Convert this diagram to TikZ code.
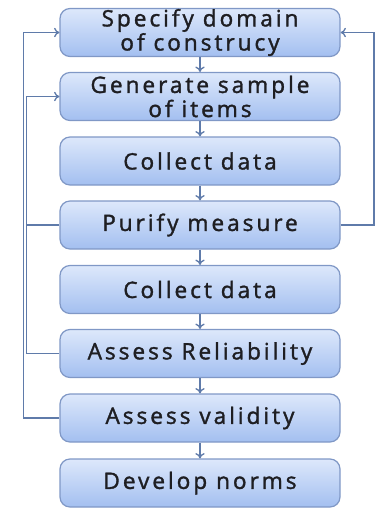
\documentclass[tikz,border=0pt]{standalone}
\usepackage{fontspec}
\newfontfamily\boxfont{Open Sans}[FakeBold=1.5, LetterSpace=13]
\usetikzlibrary{arrows.meta,calc}
\definecolor{boxtop}{HTML}{DDE8FB}
\definecolor{boxbot}{HTML}{A3BFF0}
\definecolor{boxedge}{HTML}{8098C6}
\definecolor{linec}{HTML}{5F7BAA}
\definecolor{txt}{HTML}{1E1E22}
\tikzset{
  stepbox/.style={draw=boxedge, line width=0.9pt, rounded corners=7.5pt,
    top color=boxtop, bottom color=boxbot,
    minimum width=210pt, minimum height=36pt, align=center,
    text=txt, font=\boxfont\fontsize{17}{15}\selectfont, inner sep=0pt},
  flow/.style={draw=linec, line width=1pt, -{To[length=4pt,width=7pt]}},
  fb/.style={draw=linec, line width=1pt},
  fba/.style={fb, -{To[length=4pt,width=7pt]}}
}
\begin{document}
\begin{tikzpicture}[x=0.75pt,y=-0.75pt]
\useasboundingbox (0,0) rectangle (379,514);
\node[stepbox] (specify) at (200,32.5) {Specify domain\\of construcy};
\node[stepbox] (generate) at (200,96.5) {Generate sample\\of items};
\node[stepbox] (collect1) at (200,161) {Collect data};
\node[stepbox] (purify) at (200,225) {Purify measure};
\node[stepbox] (collect2) at (200,289.5) {Collect data};
\node[stepbox] (reliab) at (200,353.5) {Assess Reliability};
\node[stepbox] (valid) at (200,418) {Assess validity};
\node[stepbox] (norms) at (200,483) {Develop norms};
\foreach \a/\b in {specify/generate,generate/collect1,collect1/purify,purify/collect2,collect2/reliab,reliab/valid,valid/norms}
  \draw[flow] (\a.south) -- (\b.north);
\coordinate (L1) at (23.5,0);
\coordinate (L2) at (26.5,0);
\coordinate (R1) at (374,0);
\draw[fba] (valid.west) -- (valid.west -| L1) -- (specify.west -| L1) -- (specify.west);
\draw[fba] (reliab.west) -- (reliab.west -| L2) -- (generate.west -| L2) -- (generate.west);
\draw[fb] (purify.west) -- (purify.west -| L2);
\draw[fba] (purify.east) -- (purify.east -| R1) -- (specify.east -| R1) -- (specify.east);
\end{tikzpicture}
\end{document}
